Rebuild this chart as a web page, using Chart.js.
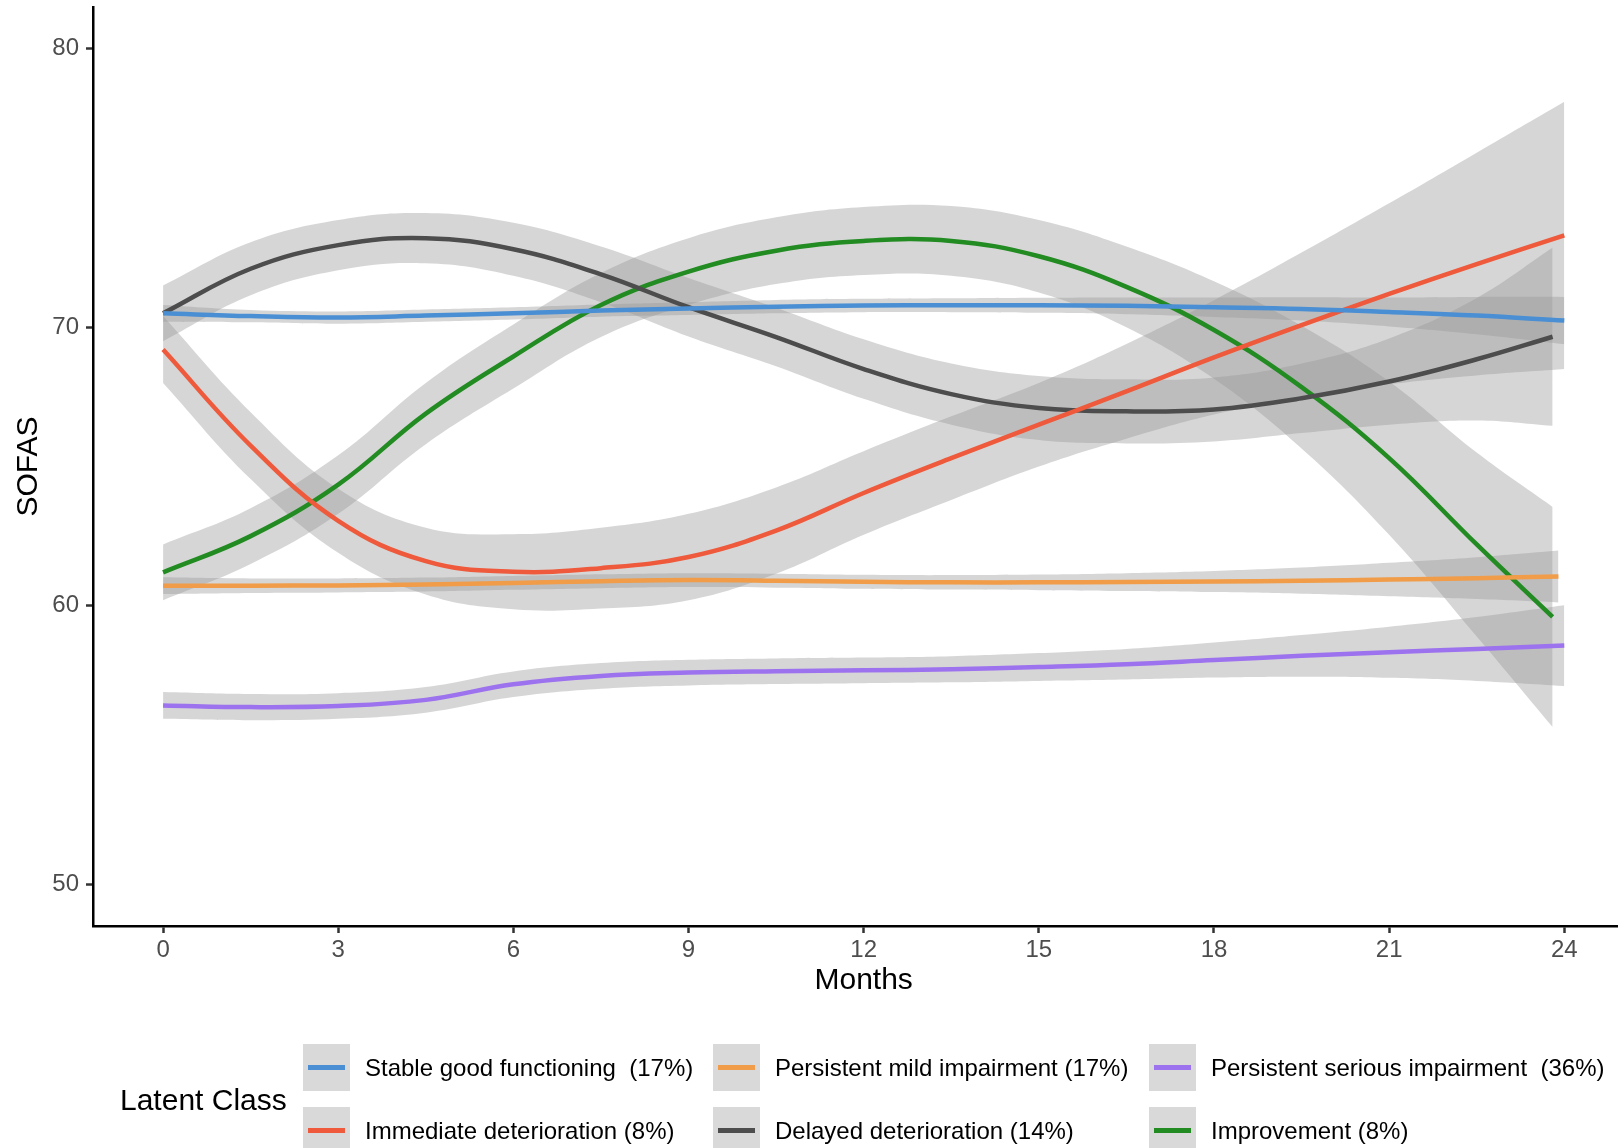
<!DOCTYPE html>
<html>
<head>
<meta charset="utf-8">
<script src="https://cdn.jsdelivr.net/npm/chart.js@4.4.1/dist/chart.umd.min.js"></script>
<style>
  body { margin: 0; background: #fff; }
  #wrap { position: relative; width: 1618px; height: 1148px; font-family: "Liberation Sans", Arial, sans-serif; }
  #chart { position: absolute; left: 0; top: 0; }
  .key { position: absolute; width: 47px; height: 47px; background: #d9d9d9; }
  .key span { position: absolute; left: 5px; right: 5px; top: 21px; height: 5px; }
  .lab { position: absolute; font-size: 24px; color: #000; white-space: pre; line-height: 47px; }
  #ltitle { position: absolute; left: 120px; top: 1082px; font-size: 30px; line-height: 36px; color: #000; }
</style>
</head>
<body>
<div id="wrap">
  <canvas id="chart" width="1618" height="1148"></canvas>
  <div id="ltitle">Latent Class</div>
  <div id="legend"></div>
</div>
<script>
// x positions (months) of the read points
const months = [0, 1.5, 3, 4.5, 6, 7.5, 9, 10.5, 12, 13.5, 15, 16.5, 18, 19.5, 21, 22.5, 24];
const monthsOrange = [0, 1.5, 3, 4.5, 6, 7.5, 9, 10.5, 12, 13.5, 15, 16.5, 18, 19.5, 21, 22.5, 23.9];
const monthsShort = [0, 1.5, 3, 4.5, 6, 7.5, 9, 10.5, 12, 13.5, 15, 16.5, 18, 19.5, 21, 22.5, 23.8];

const xTicks = [0, 3, 6, 9, 12, 15, 18, 21, 24];
const yTicks = [50, 60, 70, 80];

// fitted SOFAS and half width of the grey band, per class
const stableGood = [70.5, 70.4, 70.35, 70.42, 70.5, 70.6, 70.67, 70.74, 70.78, 70.79, 70.79, 70.77, 70.72, 70.66, 70.55, 70.42, 70.24];
const stableGoodBand = [0.3, 0.22, 0.22, 0.22, 0.22, 0.22, 0.23, 0.24, 0.24, 0.25, 0.27, 0.3, 0.35, 0.42, 0.52, 0.67, 0.85];

const mildImp = [60.72, 60.72, 60.73, 60.76, 60.82, 60.88, 60.92, 60.9, 60.86, 60.84, 60.84, 60.85, 60.87, 60.9, 60.94, 60.99, 61.05];
const mildImpBand = [0.3, 0.26, 0.25, 0.25, 0.25, 0.25, 0.25, 0.25, 0.25, 0.26, 0.28, 0.32, 0.38, 0.47, 0.6, 0.75, 0.93];

const seriousImp = [56.42, 56.36, 56.4, 56.62, 57.18, 57.48, 57.6, 57.65, 57.68, 57.72, 57.8, 57.9, 58.05, 58.2, 58.33, 58.45, 58.57];
const seriousImpBand = [0.48, 0.47, 0.46, 0.46, 0.46, 0.46, 0.46, 0.46, 0.46, 0.47, 0.5, 0.55, 0.63, 0.75, 0.92, 1.15, 1.45];

const immediateDet = [69.2, 65.75, 63.05, 61.6, 61.22, 61.35, 61.75, 62.7, 64.05, 65.3, 66.5, 67.7, 68.92, 70.08, 71.2, 72.27, 73.3];
const immediateDetBand = [1.2, 1.2, 1.15, 1.2, 1.35, 1.45, 1.55, 1.55, 1.5, 1.5, 1.5, 1.7, 2.05, 2.6, 3.25, 4.0, 4.8];

const delayedDet = [70.5, 72.1, 72.95, 73.2, 72.8, 71.9, 70.72, 69.65, 68.5, 67.6, 67.1, 66.98, 67.05, 67.45, 68.05, 68.85, 69.66];
const delayedDetBand = [1.0, 0.95, 0.9, 0.9, 0.95, 1.0, 1.05, 1.05, 1.07, 1.1, 1.15, 1.15, 1.15, 1.25, 1.55, 2.2, 3.2];

const improvement = [61.2, 62.5, 64.35, 66.9, 68.95, 70.8, 72.0, 72.75, 73.1, 73.1, 72.55, 71.45, 69.9, 67.85, 65.3, 62.2, 59.6];
const improvementBand = [1.0, 1.0, 1.05, 1.1, 1.15, 1.15, 1.2, 1.2, 1.22, 1.25, 1.3, 1.45, 1.75, 2.2, 2.75, 3.3, 3.95];

const classes = [
  { label: 'Stable good functioning  (17%)', color: '#4a8fd3', x: months, y: stableGood, band: stableGoodBand },
  { label: 'Persistent mild impairment (17%)', color: '#f09c48', x: monthsOrange, y: mildImp, band: mildImpBand },
  { label: 'Persistent serious impairment  (36%)', color: '#9d72ee', x: months, y: seriousImp, band: seriousImpBand },
  { label: 'Immediate deterioration (8%)', color: '#ee5a3b', x: months, y: immediateDet, band: immediateDetBand },
  { label: 'Delayed deterioration (14%)', color: '#4d4d4d', x: monthsShort, y: delayedDet, band: delayedDetBand },
  { label: 'Improvement (8%)', color: '#228b22', x: monthsShort, y: improvement, band: improvementBand },
];

const datasets = [];
classes.forEach(c => {
  datasets.push({
    label: c.label,
    data: c.x.map((m, i) => ({ x: m, y: c.y[i] })),
    borderColor: c.color,
    borderWidth: 4.5,
    pointRadius: 0,
    tension: 0.4,
    fill: false,
    order: 1,
  });
});
classes.forEach(c => {
  datasets.push({
    label: c.label + ' upper',
    data: c.x.map((m, i) => ({ x: m, y: c.y[i] + c.band[i] })),
    borderWidth: 0,
    pointRadius: 0,
    tension: 0.4,
    fill: false,
    order: 2,
  });
  datasets.push({
    label: c.label + ' lower',
    data: c.x.map((m, i) => ({ x: m, y: c.y[i] - c.band[i] })),
    borderWidth: 0,
    pointRadius: 0,
    tension: 0.4,
    fill: '-1',
    backgroundColor: 'rgba(153,153,153,0.4)',
    order: 2,
  });
});

const fontFamily = '"Liberation Sans", Arial, sans-serif';
const tickFont = { family: fontFamily, size: 24 };
const titleFont = { family: fontFamily, size: 30 };

// x title centred on the middle of the data range (month 12), like ggplot's panel
const monthsTitle = {
  id: 'monthsTitle',
  afterDraw(chart) {
    const { ctx, scales: { x } } = chart;
    ctx.save();
    ctx.font = '30px ' + fontFamily;
    ctx.fillStyle = '#000';
    ctx.textAlign = 'center';
    ctx.textBaseline = 'middle';
    ctx.fillText('Months', x.getPixelForValue(12), x.top + 55);
    ctx.restore();
  },
};

new Chart(document.getElementById('chart'), {
  type: 'line',
  data: { datasets },
  plugins: [monthsTitle],
  options: {
    responsive: false,
    animation: false,
    devicePixelRatio: 1,
    layout: { padding: { top: 7, left: 0, right: 0, bottom: 0 } },
    plugins: { legend: { display: false }, tooltip: { enabled: false } },
    scales: {
      x: {
        type: 'linear',
        min: -1.2,
        max: 24.92,
        afterBuildTicks: s => { s.ticks = xTicks.map(v => ({ value: v })); },
        afterFit: s => { s.height = 222; s.paddingLeft = 0; s.paddingRight = 0; },
        ticks: { font: tickFont, color: '#4d4d4d', padding: 3, maxRotation: 0 },
        grid: { drawOnChartArea: false, drawTicks: true, tickLength: 7, tickColor: '#333', tickWidth: 2.5 },
        border: { display: true, color: '#000', width: 2.5 },
      },
      y: {
        min: 48.5,
        max: 81.5,
        afterBuildTicks: s => { s.ticks = yTicks.map(v => ({ value: v })); },
        afterFit: s => { s.width = 93; s.paddingTop = 0; s.paddingBottom = 0; },
        ticks: { font: tickFont, color: '#4d4d4d', padding: 7 },
        grid: { drawOnChartArea: false, drawTicks: true, tickLength: 7, tickColor: '#333', tickWidth: 2.5 },
        border: { display: true, color: '#000', width: 2.5 },
        title: { display: true, text: 'SOFAS', font: titleFont, color: '#000', padding: { top: 11, bottom: 0 } },
      },
    },
  },
});

// legend: two rows of three, like ggplot's guide
const keyX = [303, 713, 1149];
const rowY = [1044, 1107];
const legend = document.getElementById('legend');
classes.forEach((c, i) => {
  const col = i % 3, row = Math.floor(i / 3);
  const key = document.createElement('div');
  key.className = 'key';
  key.style.left = keyX[col] + 'px';
  key.style.top = rowY[row] + 'px';
  const ln = document.createElement('span');
  ln.style.background = c.color;
  key.appendChild(ln);
  legend.appendChild(key);
  const lab = document.createElement('div');
  lab.className = 'lab';
  lab.style.left = (keyX[col] + 62) + 'px';
  lab.style.top = rowY[row] + 'px';
  lab.textContent = c.label;
  legend.appendChild(lab);
});
</script>
</body>
</html>
